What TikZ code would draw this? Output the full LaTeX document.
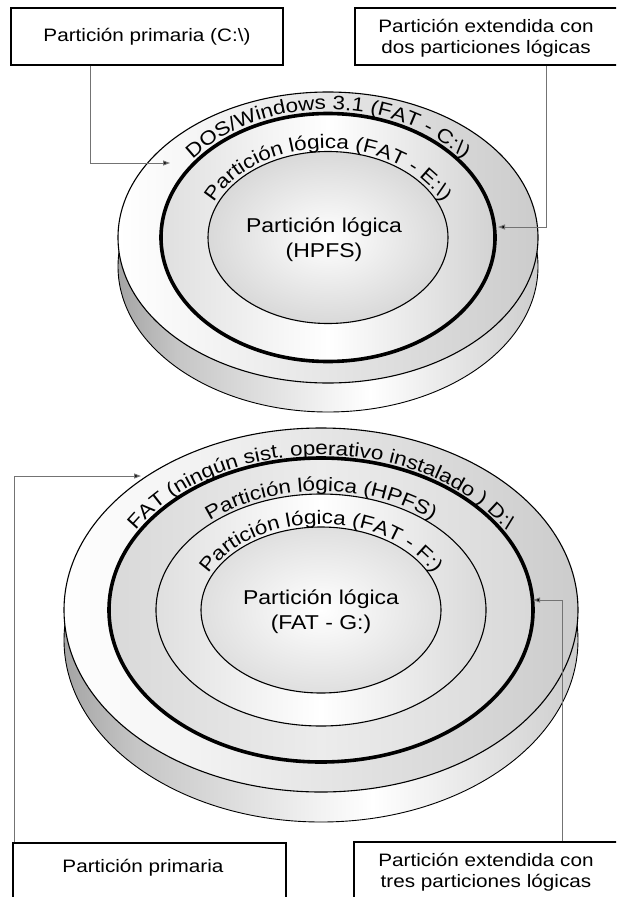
\documentclass[tikz,border=0pt]{standalone}
\usepackage{fontspec}
\setmainfont{Liberation Sans}[FakeStretch=1.15]
\newfontfamily\dskfamily{Liberation Sans}[FakeStretch=1.15]
\usetikzlibrary{decorations.text,arrows.meta}
\newcommand\boxfnt{\dskfamily\fontsize{18}{21}\selectfont}
\newcommand\ringfnt{\dskfamily\fontsize{19.5}{22}\selectfont}
\newcommand\ctrfnt{\dskfamily\fontsize{20}{25}\selectfont}
\pgfdeclarehorizontalshading{sidesh}{100bp}{color(0bp)=(black!80); color(12bp)=(black!60); color(32bp)=(gray!45); color(55bp)=(white); color(78bp)=(gray!45); color(92bp)=(black!55); color(100bp)=(black!75)}
\begin{document}
\begin{tikzpicture}[x=1pt,y=1pt,
  lblbox/.style={draw=black, line width=1.3pt, fill=white, rectangle, inner sep=0pt},
  boxtxt/.style={font=\boxfnt, align=center, inner sep=0pt},
  ctrtxt/.style={font=\ctrfnt, align=center, inner sep=0pt},
  conn/.style={draw=black!55, line width=1pt, -{Triangle[length=7pt,width=5pt,fill=black]}},
  thinring/.style={draw=black, line width=1.1pt},
  thickring/.style={draw=black, line width=3.6pt},
  edge/.style={draw=black, line width=0.9pt}]
\useasboundingbox (0,0) rectangle (616,-897);
\clip (0,0) rectangle (616,-897);

% ---------------- top disk ----------------
\shade[shading=sidesh] (328,-266.5) ellipse[x radius=210, y radius=145.5];
\draw[edge] (328,-266.5) ellipse[x radius=210, y radius=145.5];
\draw[thinring, left color=white, right color=gray!40] (328,-237.5) ellipse[x radius=210, y radius=145.5];
\draw[thickring, left color=gray!25, right color=gray!35, middle color=white] (328,-237.5) ellipse[x radius=167, y radius=124];
\draw[thinring, inner color=white, outer color=gray!30] (328,-237.5) ellipse[x radius=120, y radius=86];

\path[decorate, decoration={text along path, text align=center,
  text={|\ringfnt|DOS/Windows 3.1 (FAT - C:{\textbackslash})}}]
  ([shift={(328,-237.5)}]178:171 and 128) arc[start angle=178, end angle=2, x radius=171, y radius=128];
\path[decorate, decoration={text along path, text align=center,
  text={|\ringfnt|Partición lógica (FAT - E:{\textbackslash})}}]
  ([shift={(328,-237.5)}]178:124 and 89) arc[start angle=178, end angle=2, x radius=124, y radius=89];

\node[ctrtxt] (c1) at (324,-240) {Partición lógica\\(HPFS)};

% ---------------- bottom disk ----------------
\shade[shading=sidesh] (321,-640) ellipse[x radius=257, y radius=182];
\draw[edge] (321,-640) ellipse[x radius=257, y radius=182];
\draw[thinring, left color=white, right color=gray!40] (321,-610) ellipse[x radius=257, y radius=182];
\draw[thickring, left color=gray!30, right color=gray!30, middle color=gray!15] (321,-610) ellipse[x radius=212, y radius=152];
\draw[thinring, left color=gray!25, right color=gray!30, middle color=white] (321,-610) ellipse[x radius=165, y radius=116];
\draw[thinring, inner color=white, outer color=gray!25] (321,-610) ellipse[x radius=120, y radius=83];

\path[decorate, decoration={text along path, text align=center,
  text={|\ringfnt|FAT (ningún sist. operativo instalado ) D:{\textbackslash}}}]
  ([shift={(321,-610)}]178:216 and 155) arc[start angle=178, end angle=2, x radius=216, y radius=155];
\path[decorate, decoration={text along path, text align=center,
  text={|\ringfnt|Partición lógica (HPFS)}}]
  ([shift={(321,-610)}]178:169 and 119) arc[start angle=178, end angle=2, x radius=169, y radius=119];
\path[decorate, decoration={text along path, text align=center,
  text={|\ringfnt|Partición lógica (FAT - F:)}}]
  ([shift={(321,-610)}]179:124 and 86) arc[start angle=179, end angle=1, x radius=124, y radius=86];

\node[ctrtxt] (c2) at (321,-612) {Partición lógica\\(FAT - G:)};

% ---------------- boxes ----------------
\node[lblbox, minimum width=272pt, minimum height=57pt] (b1) at (147,-36.5) {};
\node[boxtxt] (t1) at (b1.center) {Partición primaria (C:\textbackslash)};
\node[lblbox, minimum width=275pt, minimum height=57pt] (b2) at (492.5,-36.5) {};
\node[boxtxt] (t2) at (486,-38) {Partición extendida con\\dos particiones lógicas};
\node[lblbox, minimum width=273pt, minimum height=67pt] (b3) at (149.5,-876.5) {};
\node[boxtxt] (t3) at (143,-868) {Partición primaria};
\node[lblbox, minimum width=276pt, minimum height=68pt] (b4) at (492,-876) {};
\node[boxtxt] (t4) at (486,-872.5) {Partición extendida con\\tres particiones lógicas};

% ---------------- connectors ----------------
\coordinate (a1) at (170,-163);
\coordinate (a2) at (498,-227);
\coordinate (a3) at (141,-476);
\coordinate (a4) at (533,-600);
\draw[conn] ([xshift=80pt]b1.south west) |- (a1);
\draw[conn] ([xshift=192pt]b2.south west) |- (a2);
\draw[conn] ([xshift=2pt]b3.north west) |- (a3);
\draw[conn] ([xshift=209pt]b4.north west) |- (a4);
\end{tikzpicture}
\end{document}
